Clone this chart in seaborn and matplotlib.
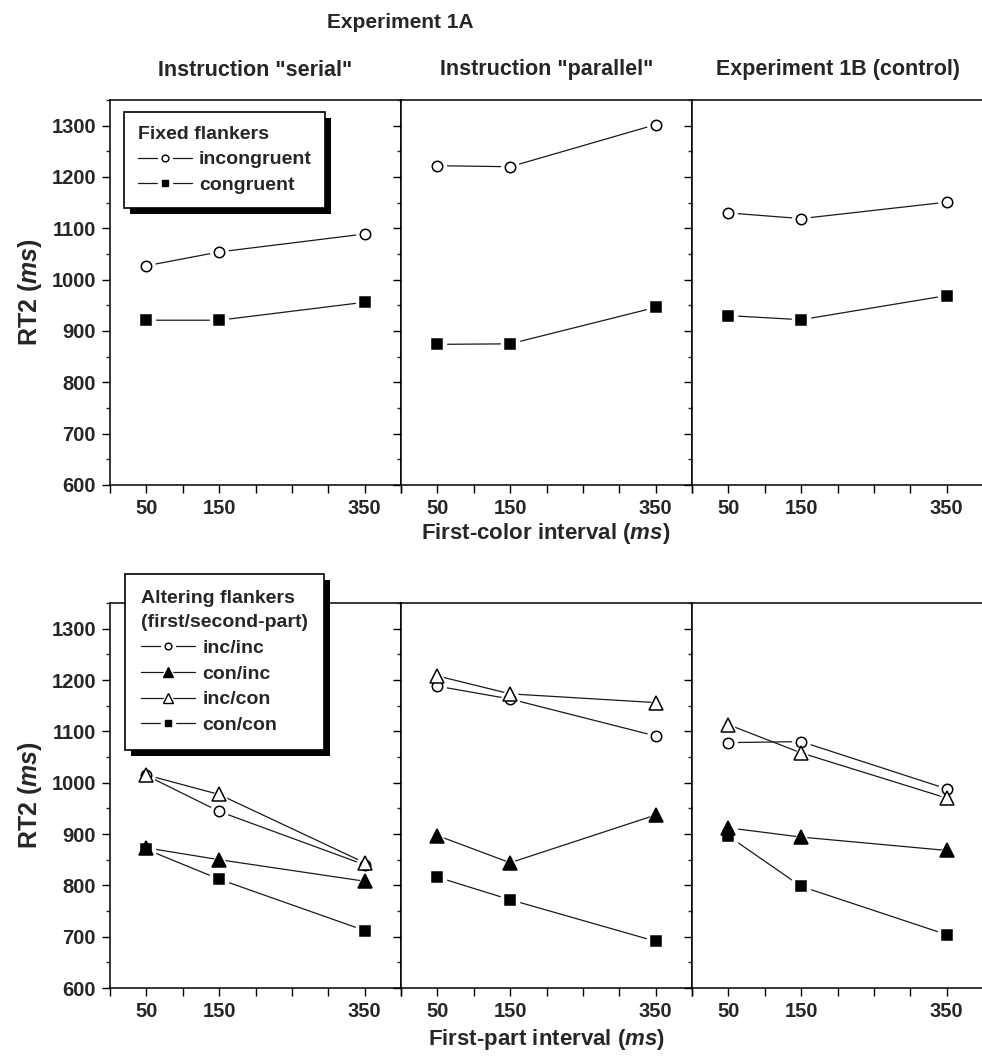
import matplotlib
matplotlib.use("Agg")
import matplotlib.pyplot as plt
import seaborn as sns
import numpy as np
from matplotlib.lines import Line2D
from matplotlib.patches import Rectangle
from matplotlib.transforms import IdentityTransform
from matplotlib.legend_handler import HandlerTuple
from matplotlib.ticker import MultipleLocator

# ---- data ----
intervals = [50, 150, 350]
panel_titles = ['Instruction "serial"', 'Instruction "parallel"', 'Experiment 1B (control)']

# top row: fixed flankers, one list per panel
fixed_incongruent = [[1027, 1054, 1089], [1222, 1220, 1302], [1130, 1119, 1151]]
fixed_congruent = [[921, 921, 956], [874, 875, 946], [930, 922, 969]]

# bottom row: altering flankers (first/second part)
alt_inc_inc = [[1014, 944, 840], [1188, 1163, 1091], [1078, 1080, 988]]
alt_con_inc = [[873, 850, 808], [897, 844, 937], [912, 894, 868]]
alt_inc_con = [[1015, 977, 844], [1208, 1173, 1156], [1113, 1058, 970]]
alt_con_con = [[870, 812, 712], [816, 772, 691], [896, 798, 704]]

x_tick_labels = {50: "50", 150: "150", 350: "350"}

# ---- style ----
sns.set_style("ticks")
plt.rcParams["font.family"] = ["Liberation Sans", "DejaVu Sans"]
plt.rcParams["font.weight"] = "bold"
plt.rcParams["mathtext.fontset"] = "custom"
plt.rcParams["mathtext.rm"] = "Liberation Sans:bold"
plt.rcParams["mathtext.bfit"] = "Liberation Sans:italic:bold"

W, H = 982, 1056
fig = plt.figure(figsize=(W / 100, H / 100), dpi=100)

LINE_C = "#1a1a1a"
series_style = {
    "incongruent": dict(marker="o", ms=7.5, mfc="white"),
    "congruent": dict(marker="s", ms=7.5, mfc="black"),
    "inc/inc": dict(marker="o", ms=7.5, mfc="white"),
    "con/inc": dict(marker="^", ms=10, mfc="black"),
    "inc/con": dict(marker="^", ms=10, mfc="white"),
    "con/con": dict(marker="s", ms=7.5, mfc="black"),
}


def add_axes_px(x0, y0, w, h):
    return fig.add_axes([x0 / W, 1 - (y0 + h) / H, w / W, h / H])


def draw_series(ax, values, name):
    st = series_style[name]
    sns.lineplot(x=intervals, y=values, ax=ax, color=LINE_C, lw=0.9, legend=False, zorder=2)
    # white halo so the line stops short of the marker
    ax.plot(intervals, values, ls="none", marker=st["marker"], ms=st["ms"] + 5,
            mfc="white", mec="white", zorder=3)
    ax.plot(intervals, values, ls="none", marker=st["marker"], ms=st["ms"],
            mfc=st["mfc"], mec="black", mew=1.1, zorder=4)


def format_axes(ax, first):
    ax.set_xlim(0, 400)
    ax.set_ylim(600, 1350)
    ticks = np.arange(0, 401, 50)
    ax.set_xticks(ticks)
    ax.set_xticklabels([x_tick_labels.get(int(t), "") for t in ticks])
    ax.set_yticks(np.arange(600, 1301, 100))
    ax.yaxis.set_minor_locator(MultipleLocator(50))
    ax.tick_params(axis="both", which="major", direction="out", length=6, width=1,
                   labelsize=14.5, pad=4, color="black")
    ax.tick_params(axis="y", which="minor", direction="out", length=3, width=1)
    ax.tick_params(axis="x", which="minor", bottom=False)
    for s in ax.spines.values():
        s.set_linewidth(1.1)
        s.set_color("black")
    ax.set_xlabel("")
    ax.set_ylabel("")
    if not first:
        ax.tick_params(axis="y", labelleft=False)


def legend_handle(name):
    st = series_style[name]
    small = st["ms"] * 0.65
    return (Line2D([], [], color=LINE_C, lw=0.9),
            Line2D([], [], ls="none", marker=st["marker"], ms=small + 5, mfc="white", mec="white"),
            Line2D([], [], ls="none", marker=st["marker"], ms=small, mfc=st["mfc"],
                   mec="black", mew=1.0))


def make_legend(ax, names, title, x0, y0, pad=0.7):
    leg = ax.legend([legend_handle(n) for n in names], names,
                    handler_map={tuple: HandlerTuple(ndivide=1, pad=0)},
                    title=title, loc="upper left", bbox_to_anchor=(x0 / W, 1 - y0 / H),
                    bbox_transform=fig.transFigure, borderaxespad=0, frameon=True,
                    fancybox=False, edgecolor="black", framealpha=1, facecolor="white",
                    handlelength=2.8, handletextpad=0.35, labelspacing=0.42,
                    borderpad=pad, fontsize=14, title_fontsize=14, alignment="left")
    leg.get_frame().set_linewidth(1.2)
    leg.get_title().set_fontweight("bold")
    leg.get_title().set_linespacing(1.55)
    leg.set_zorder(6)
    return leg


panel_x = [110, 401, 692]
pw, ph = 291, 385
legends = []

# top row
for i in range(3):
    ax = add_axes_px(panel_x[i], 100, pw, ph)
    draw_series(ax, fixed_incongruent[i], "incongruent")
    draw_series(ax, fixed_congruent[i], "congruent")
    format_axes(ax, i == 0)
    if i == 0:
        legends.append((ax, make_legend(ax, ["incongruent", "congruent"], "Fixed flankers", 124, 112)))

# bottom row
for i in range(3):
    ax = add_axes_px(panel_x[i], 603, pw, ph)
    draw_series(ax, alt_inc_inc[i], "inc/inc")
    draw_series(ax, alt_con_inc[i], "con/inc")
    draw_series(ax, alt_inc_con[i], "inc/con")
    draw_series(ax, alt_con_con[i], "con/con")
    format_axes(ax, i == 0)
    if i == 0:
        legends.append((ax, make_legend(ax, ["inc/inc", "con/inc", "inc/con", "con/con"],
                                        "Altering flankers\n(first/second-part)", 125, 574, pad=0.82)))

# titles and labels
fig.text(400 / W, 1 - 22 / H, "Experiment 1A", ha="center", va="center", fontsize=15, fontweight="bold")
for i, t in enumerate(panel_titles):
    fig.text((panel_x[i] + pw / 2) / W, 1 - 70 / H, t, ha="center", va="center",
             fontsize=15.5, fontweight="bold")
for yc in (292, 795):
    fig.text(30 / W, 1 - yc / H, r"RT2 ($\mathbfit{ms}$)", rotation=90, ha="center",
             va="center", fontsize=18, fontweight="bold")
fig.text(546 / W, 1 - 533 / H, r"First-color interval ($\mathbfit{ms}$)", ha="center",
         va="center", fontsize=16, fontweight="bold")
fig.text(546 / W, 1 - 1040 / H, r"First-part interval ($\mathbfit{ms}$)", ha="center",
         va="center", fontsize=16, fontweight="bold")

# solid black drop shadow behind the legend boxes
fig.canvas.draw()
for ax, leg in legends:
    bb = leg.get_frame().get_window_extent()
    shadow = Rectangle((bb.x0 + 6, bb.y0 - 6), bb.width, bb.height, transform=IdentityTransform(),
                       facecolor="black", edgecolor="none", zorder=5.5, clip_on=False)
    ax.add_patch(shadow)

fig.savefig("out.png", dpi=100)
